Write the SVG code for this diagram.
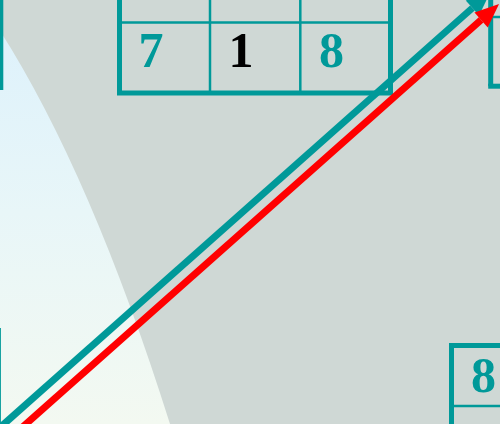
<svg xmlns="http://www.w3.org/2000/svg" width="500" height="424" viewBox="0 0 500 424">
  <defs>
    <linearGradient id="glow" x1="0" y1="0" x2="0" y2="424" gradientUnits="userSpaceOnUse">
      <stop offset="0" stop-color="#DCF1FC"/>
      <stop offset="0.5" stop-color="#E8F6F8"/>
      <stop offset="1" stop-color="#F3F9F1"/>
    </linearGradient>
    <marker id="headTeal" markerUnits="userSpaceOnUse" markerWidth="26" markerHeight="22" refX="0" refY="10" orient="auto" overflow="visible">
      <path d="M0,0 L24,10 L0,20 Z" fill="#009999"/>
    </marker>
    <marker id="headRed" markerUnits="userSpaceOnUse" markerWidth="26" markerHeight="22" refX="0" refY="10" orient="auto" overflow="visible">
      <path d="M0,0 L24,10 L0,20 Z" fill="#FF0000"/>
    </marker>
    <style>
      .outer { fill: none; stroke: #009999; stroke-width: 5; }
      .inner { fill: none; stroke: #009999; stroke-width: 2.5; }
      .num { font-family: "Liberation Serif", "Times New Roman", serif; font-weight: bold; font-size: 50px; text-anchor: middle; fill: #009999; }
      .num.dark { fill: #000000; }
      .edge { fill: none; stroke-width: 7; stroke-linecap: butt; }
    </style>
  </defs>

  <rect x="0" y="0" width="500" height="424" fill="#CFD8D5"/>
  <path d="M -3,0 L -3,26 Q 90,170 170,424 L -3,424 Z" fill="url(#glow)"/>

  <g id="board-left-top">
    <line class="outer" x1="0.8" y1="-10" x2="0.8" y2="90"/>
  </g>

  <g id="board-left-bottom">
    <line class="outer" x1="-1.6" y1="328" x2="-1.6" y2="430"/>
  </g>

  <g id="board-top">
    <rect class="outer" x="119.5" y="-48" width="271" height="141"/>
    <line class="inner" x1="119.5" y1="22.5" x2="390.5" y2="22.5"/>
    <line class="inner" x1="210" y1="-48" x2="210" y2="93"/>
    <line class="inner" x1="300.3" y1="-48" x2="300.3" y2="93"/>
    <text class="num" x="151" y="67">7</text>
    <text class="num dark" x="241" y="67">1</text>
    <text class="num" x="331.5" y="67">8</text>
  </g>

  <g id="board-top-right">
    <line class="outer" x1="490.7" y1="-10" x2="490.7" y2="86.2"/>
    <line class="outer" x1="488.2" y1="86.2" x2="510" y2="86.2"/>
    <line class="inner" x1="490.7" y1="17" x2="510" y2="17"/>
  </g>

  <g id="board-bottom-right">
    <line class="outer" x1="451.5" y1="343" x2="451.5" y2="430"/>
    <line class="outer" x1="449" y1="345.5" x2="510" y2="345.5"/>
    <line class="inner" x1="451.5" y1="406" x2="510" y2="406"/>
    <text class="num" x="483.5" y="392">8</text>
  </g>

  <g id="connectors">
    <line class="edge" stroke="#009999" x1="-2.8" y1="430" x2="472.4" y2="8" marker-end="url(#headTeal)"/>
    <line class="edge" stroke="#FF0000" x1="19.2" y1="430" x2="481.1" y2="19.9" marker-end="url(#headRed)"/>
  </g>
</svg>
